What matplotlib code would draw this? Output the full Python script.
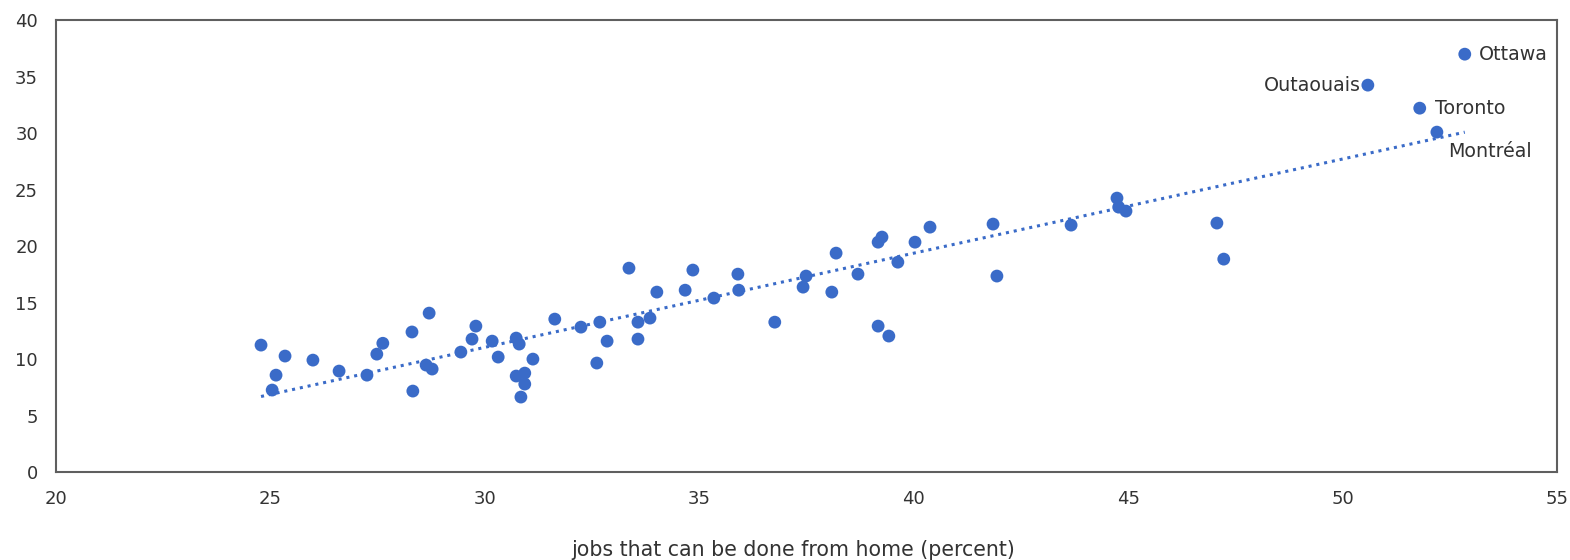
import matplotlib
matplotlib.use("Agg")
import matplotlib.pyplot as plt
import numpy as np

# share of jobs that can be done from home (percent) vs. y value, by region
jobs_home = [
    24.78, 25.13, 25.04, 25.34, 25.99, 26.60, 27.25, 27.48, 27.62, 28.30,
    28.32, 28.70, 28.63, 28.77, 29.44, 29.70, 29.79, 30.17, 30.31, 30.73,
    30.80, 30.73, 30.84, 30.93, 30.93, 31.12, 31.63, 32.24, 32.61, 32.68,
    32.85, 33.36, 33.57, 33.57, 33.85, 34.01, 34.67, 34.85, 35.34, 35.90,
    35.92, 36.76, 37.42, 37.49, 38.09, 38.19, 38.70, 39.17, 39.17, 39.26,
    39.42, 39.63, 40.03, 40.38, 41.85, 41.94, 43.67, 44.74, 44.78, 44.95,
    47.07, 47.23, 50.59, 51.80, 52.20, 52.85,
]
values = [
    11.24, 8.58, 7.26, 10.27, 9.91, 8.94, 8.58, 10.44, 11.40, 12.40,
    7.17, 14.07, 9.47, 9.12, 10.62, 11.77, 12.92, 11.59, 10.18, 11.86,
    11.33, 8.50, 6.64, 8.76, 7.79, 10.00, 13.54, 12.83, 9.65, 13.27,
    11.59, 18.05, 13.27, 11.77, 13.63, 15.93, 16.10, 17.88, 15.40, 17.52,
    16.10, 13.27, 16.37, 17.35, 15.93, 19.38, 17.52, 12.92, 20.35, 20.80,
    12.04, 18.58, 20.35, 21.68, 21.95, 17.35, 21.86, 24.25, 23.45, 23.10,
    22.04, 18.85, 34.25, 32.21, 30.09, 36.99,
]

# labelled points: name, x, y, horizontal alignment, offset (pt)
labels = [
    ("Ottawa", 52.85, 36.99, "left", (10, 0)),
    ("Outaouais", 50.59, 34.25, "right", (-5, 0)),
    ("Toronto", 51.80, 32.21, "left", (11, 0)),
    ("Montréal", 52.20, 30.09, "left", (8, -14)),
]

x_ticks = [20, 25, 30, 35, 40, 45, 50, 55]
y_ticks = [0, 5, 10, 15, 20, 25, 30, 35, 40]

blue = "#3A6BC8"
grey_text = "#333333"

plt.rcParams["font.family"] = ["DejaVu Sans"]

fig = plt.figure(figsize=(15.7, 5.6), dpi=100)
ax = fig.add_axes([0.0357, 0.157, 0.956, 0.807])

x = np.array(jobs_home)
y = np.array(values)
ax.scatter(x, y, s=85, color=blue, edgecolors="none", zorder=3)

# linear trend line across the data range
slope, intercept = np.polyfit(x, y, 1)
xs = np.array([x.min(), x.max()])
ax.plot(xs, slope * xs + intercept, color=blue, linewidth=2.2,
        linestyle=(0, (1, 1.6)), zorder=2)

for name, px, py, ha, off in labels:
    ax.annotate(name, (px, py), xytext=off, textcoords="offset points",
                ha=ha, va="center", fontsize=13.7, color=grey_text)

ax.set_xlim(20, 55)
ax.set_ylim(0, 40)
ax.set_xticks(x_ticks)
ax.set_yticks(y_ticks)
ax.tick_params(length=0, labelsize=13, labelcolor=grey_text)
ax.tick_params(axis="x", pad=13)
ax.tick_params(axis="y", pad=13)
for sp in ax.spines.values():
    sp.set_color("#5f5f5f")
    sp.set_linewidth(1.5)

ax.set_xlabel("jobs that can be done from home (percent)", fontsize=14.8,
              color=grey_text, va="center")
ax.xaxis.set_label_coords(0.491, -0.1726)

fig.savefig("out.png", dpi=100)
